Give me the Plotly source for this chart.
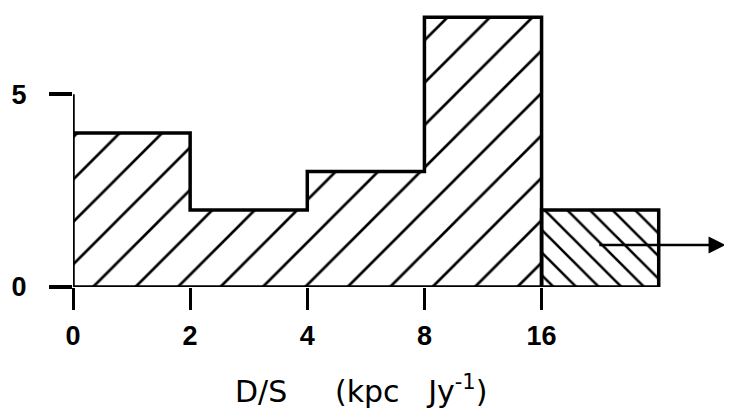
import plotly.graph_objects as go

# ---- data ----
edge_labels = ["0", "2", "4", "8", "16"]          # D/S bin edges (kpc Jy^-1), equally spaced on the plot
counts = [4, 2, 3, 7, 2]                          # number per bin; last bin is "> 16"
hatch_shapes = ["/", "/", "/", "/", "\\"]         # last (open-ended) bin hatched the other way
hatch_sizes = [30, 30, 30, 30, 16]
hatch_solid = [0.09, 0.09, 0.09, 0.09, 0.16]
y_tick_vals = [0, 5]
x_title = "D/S\u00a0\u00a0\u00a0\u00a0\u00a0(kpc\u00a0\u00a0\u00a0Jy<sup>-1</sup>)"

n = len(counts)
edges = list(range(n + 1))            # edge positions on the axis
centers = [e + 0.5 for e in edges[:-1]]

fig = go.Figure()

# hatched bars (no outline; outline drawn as a step line)
fig.add_trace(go.Bar(
    x=centers, y=counts, width=[1] * n,
    marker=dict(
        color="white",
        line=dict(width=0),
        pattern=dict(shape=hatch_shapes, size=hatch_sizes, solidity=hatch_solid,
                     fgcolor="black", bgcolor="white", fillmode="replace"),
    ),
    showlegend=False, hoverinfo="skip",
))

LW = 3.5
# step outline of the closed bins
sx, sy = [], []
for i in range(n - 1):
    sx += [edges[i], edges[i + 1]]
    sy += [counts[i], counts[i]]
sx.append(edges[n - 1]); sy.append(0)
fig.add_trace(go.Scatter(x=sx, y=sy, mode="lines", line=dict(color="black", width=LW),
                         cliponaxis=False, showlegend=False, hoverinfo="skip"))
# outline of the open-ended last bin
fig.add_trace(go.Scatter(x=[edges[n - 1], edges[n - 1], edges[n], edges[n]],
                         y=[0, counts[-1], counts[-1], 0], mode="lines",
                         line=dict(color="black", width=LW),
                         cliponaxis=False, showlegend=False, hoverinfo="skip"))
# baseline
fig.add_trace(go.Scatter(x=[edges[0], edges[-1]], y=[0, 0], mode="lines",
                         line=dict(color="black", width=LW),
                         cliponaxis=False, showlegend=False, hoverinfo="skip"))
# y axis line up to the top tick
fig.add_trace(go.Scatter(x=[0, 0], y=[0, y_tick_vals[-1]], mode="lines",
                         line=dict(color="black", width=LW),
                         cliponaxis=False, showlegend=False, hoverinfo="skip"))

# arrow indicating the open-ended bin
arrow_y = 1.09
arrow_x0, arrow_x1 = 4.48, 5.57
fig.add_annotation(x=arrow_x1, y=arrow_y, ax=arrow_x0, ay=arrow_y,
                   xref="x", yref="y", axref="x", ayref="y",
                   showarrow=True, arrowhead=2, arrowsize=1.3, arrowwidth=2.6,
                   arrowcolor="black", text="")

# axis title
fig.add_annotation(x=2.46, y=-0.37, xref="x", yref="paper", text=x_title, showarrow=False,
                   font=dict(family="DejaVu Sans", size=30, color="black"),
                   xanchor="center", yanchor="middle")

tick_font = dict(family="Liberation Sans Narrow, Liberation Sans, Arial", size=27,
                 color="black", weight="bold")

# page body has an 8px margin, so the figure is 8px smaller and margins compensate
fig.update_layout(
    template="none",
    width=724, height=400,
    margin=dict(l=65, r=3, t=2, b=121, pad=0),
    paper_bgcolor="white", plot_bgcolor="white",
    bargap=0,
    xaxis=dict(range=[0, 5.6], tickvals=edges[:-1], ticktext=edge_labels,
               ticks="outside", ticklen=22, tickwidth=3, tickcolor="black",
               showline=False, showgrid=False, zeroline=False, automargin=False,
               tickfont=tick_font, ticklabelstandoff=3, fixedrange=True),
    yaxis=dict(range=[0, 7.19], tickvals=y_tick_vals, ticktext=[str(v) for v in y_tick_vals],
               ticks="outside", ticklen=23, tickwidth=3.5, tickcolor="black",
               showline=False, showgrid=False, zeroline=False, automargin=False,
               tickfont=tick_font, ticklabelstandoff=17, fixedrange=True),
)

fig.write_html("out.html")
